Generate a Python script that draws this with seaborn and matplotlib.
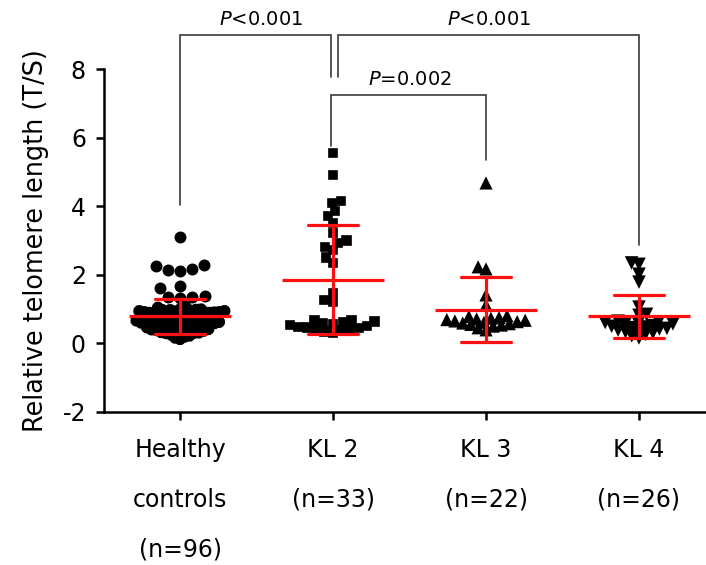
import warnings
warnings.filterwarnings("ignore")
import numpy as np
import pandas as pd
import matplotlib
matplotlib.use("Agg")
import matplotlib.pyplot as plt
import matplotlib.patheffects as pe
import seaborn as sns

# ---------------- data ----------------
groups = ["Healthy\ncontrols\n(n=96)", "KL 2\n(n=33)", "KL 3\n(n=22)", "KL 4\n(n=26)"]

healthy = [3.10, 2.28, 2.25, 2.18, 2.15, 2.12, 1.68, 1.62, 1.38, 1.36,
           1.34, 1.31, 1.06, 1.04, 1.01, 0.99, 0.98, 0.97, 0.97, 0.95,
           0.94, 0.94, 0.93, 0.92, 0.91, 0.91, 0.90, 0.89, 0.89, 0.88,
           0.87, 0.87, 0.86, 0.85, 0.84, 0.84, 0.83, 0.81, 0.79, 0.78,
           0.76, 0.76, 0.75, 0.73, 0.72, 0.71, 0.70, 0.69, 0.68, 0.68,
           0.66, 0.65, 0.64, 0.63, 0.63, 0.62, 0.61, 0.60, 0.60, 0.59,
           0.58, 0.58, 0.57, 0.56, 0.55, 0.55, 0.54, 0.53, 0.51, 0.50,
           0.49, 0.48, 0.47, 0.46, 0.45, 0.44, 0.43, 0.42, 0.41, 0.40,
           0.39, 0.38, 0.37, 0.36, 0.35, 0.33, 0.32, 0.31, 0.30, 0.29,
           0.27, 0.25, 0.22, 0.19, 0.16, 0.12]

kl2 = [5.55, 4.91, 4.15, 4.09, 3.86, 3.72, 3.52, 3.22, 3.00, 2.93,
       2.81, 2.73, 2.50, 2.35, 1.47, 1.26, 1.20, 0.68, 0.66, 0.63,
       0.61, 0.58, 0.56, 0.53, 0.50, 0.48, 0.46, 0.44, 0.42, 0.40,
       0.37, 0.34, 0.31]

kl3 = [4.65, 2.20, 2.14, 1.38, 1.09, 0.77, 0.75, 0.72, 0.70, 0.68,
       0.66, 0.64, 0.62, 0.60, 0.58, 0.56, 0.54, 0.52, 0.50, 0.47,
       0.42, 0.36]

kl4 = [2.38, 2.34, 2.05, 1.82, 1.09, 0.88, 0.85, 0.68, 0.66, 0.64,
       0.62, 0.60, 0.58, 0.55, 0.53, 0.51, 0.49, 0.47, 0.45, 0.42,
       0.40, 0.37, 0.34, 0.30, 0.25, 0.19]

series = [healthy, kl2, kl3, kl4]
yticks = [-2, 0, 2, 4, 6, 8]
ylabel = "Relative telomere length (T/S)"
p_labels = [r"$\mathit{P}$<0.001", r"$\mathit{P}$=0.002", r"$\mathit{P}$<0.001"]

df = pd.DataFrame({
    "group": np.repeat(groups, [len(s) for s in series]),
    "value": np.concatenate([np.asarray(s, float) for s in series]),
})

# ---------------- style ----------------
sns.set_theme(style="ticks")
plt.rcParams["font.family"] = ["DejaVu Sans"]
plt.rcParams["mathtext.fontset"] = "dejavusans"
plt.rcParams["axes.unicode_minus"] = False

fig = plt.figure(figsize=(7.06, 5.65), dpi=100)
ax = fig.add_axes([104 / 706, 1 - 411.7 / 565, 602 / 706, 342.4 / 565])
ax.set_xlim(-0.497, 3.438)
ax.set_ylim(-2, 8)

# swarm layout: (marker, dense-cluster packing size, stroke, split value,
#                packing size above split)
layout = [("o", 3.5, 5.1, 1.2, 8.6),
          ("s", 6.0, 1.2, None, None),
          ("^", 5.6, 2.4, None, None),
          ("v", 5.2, 2.8, None, None)]

def swarm(sub, m, sz, st):
    n0 = len(ax.collections)
    sns.swarmplot(data=sub, x="group", y="value", order=groups, marker=m,
                  size=sz, color="black", linewidth=0, ax=ax, zorder=2)
    if st > 0:
        for coll in ax.collections[n0:]:
            coll.set_path_effects([pe.withStroke(linewidth=st, foreground="black",
                                                 joinstyle="miter")])

for g, (m, sz, st, split, sz_hi) in zip(groups, layout):
    sub = df[df["group"] == g]
    if split is None:
        swarm(sub, m, sz, st)
    else:
        swarm(sub[sub["value"] < split], m, sz, st)
        swarm(sub[sub["value"] >= split], m, sz_hi, 0)

sns.pointplot(data=df, x="group", y="value", order=groups, errorbar="sd",
              capsize=0.33, color="#ff1010", marker="_", markersize=73,
              markeredgewidth=2.3, linestyle="none", linewidth=2.3,
              err_kws={"linewidth": 2.3, "zorder": 5}, zorder=6, ax=ax)

ax.set_xlim(-0.497, 3.438)
ax.set_ylim(-2, 8)
ax.set_yticks(yticks)
ax.set_xlabel("")
ax.set_ylabel(ylabel, fontsize=18.4, labelpad=10, color="black")

for side in ["top", "right"]:
    ax.spines[side].set_visible(False)
for side in ["left", "bottom"]:
    ax.spines[side].set_linewidth(1.8)
    ax.spines[side].set_color("black")

ax.tick_params(axis="both", width=1.8, length=6, color="black",
               labelsize=17, labelcolor="black")
ax.tick_params(axis="x", pad=13)
ax.tick_params(axis="y", pad=7)
for lbl in ax.get_xticklabels():
    lbl.set_linespacing(2.35)

# ---------------- significance brackets ----------------
bc = "#3a3a3a"
blw = 1.2
def bracket(x0, x1, y, y0, y1):
    ax.plot([x0, x0, x1, x1], [y0, y, y, y1], color=bc, lw=blw,
            clip_on=False, solid_joinstyle="miter", zorder=3)

bracket(0.0, 0.985, 9.0, 4.05, 7.77)
bracket(1.035, 3.0, 9.0, 7.77, 2.87)
bracket(0.99, 2.0, 7.25, 5.75, 5.35)

ax.text(0.53, 9.45, p_labels[0], ha="center", va="center", fontsize=14,
        color="black", clip_on=False)
ax.text(1.50, 7.70, p_labels[1], ha="center", va="center", fontsize=14,
        color="black", clip_on=False)
ax.text(2.02, 9.45, p_labels[2], ha="center", va="center", fontsize=14,
        color="black", clip_on=False)

fig.savefig("out.png", dpi=100)
